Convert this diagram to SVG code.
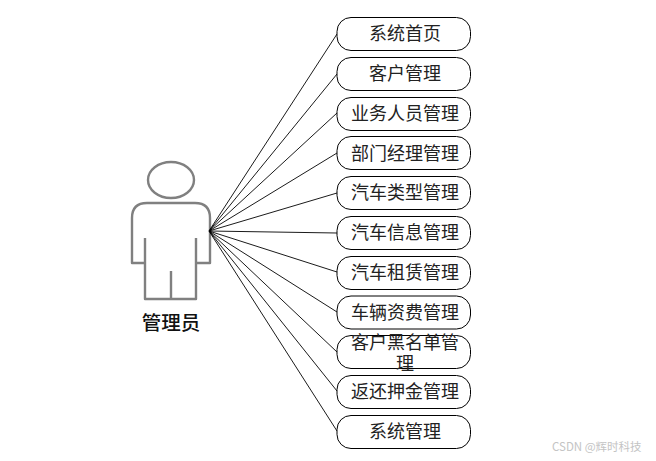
<svg xmlns="http://www.w3.org/2000/svg" width="656" height="461" viewBox="0 0 656 461">
<style>
.n{fill:#fff;stroke:#000;stroke-width:1}
.t{font-family:"Noto Sans CJK SC",sans-serif;font-size:18px;fill:#222;text-anchor:middle}
.c{stroke:#000;stroke-width:.9;fill:none}
.p{fill:#fff;stroke:#808080;stroke-width:2.400;stroke-linejoin:round}
</style>
<rect width="656" height="461" fill="#fff"/>
<g id="actor">
<ellipse class="p" cx="171" cy="180" rx="23" ry="18"/>
<path class="p" d="M145 238V263H132V218Q132 203 147 203H195Q210 203 210 218V263H196V238M196 263V299H145V263M171 299V271"/>
<text x="171" y="330" style="font-family:'Noto Sans CJK SC',sans-serif;font-size:19.500px;font-weight:500;fill:#111;text-anchor:middle">管理员</text>
</g>
<g id="connectors">
<path class="c" d="M209 231L337 34M209 231L337 74M209 231L337 113M209 231L337 153M209 231L337 193M209 231L337 233M209 231L337 272M209 231L337 312M209 231L337 352M209 231L337 391M209 231L337 431"/>
</g>
<g id="n1"><rect class="n" x="337" y="17.500" width="133.500" height="33" rx="14"/><text class="t" x="405" y="40">系统首页</text></g>
<g id="n2"><rect class="n" x="337" y="57.500" width="133.500" height="33" rx="14"/><text class="t" x="405" y="80">客户管理</text></g>
<g id="n3"><rect class="n" x="337" y="97.500" width="133.500" height="33" rx="14"/><text class="t" x="405" y="120">业务人员管理</text></g>
<g id="n4"><rect class="n" x="337" y="136.500" width="133.500" height="33" rx="14"/><text class="t" x="405" y="160">部门经理管理</text></g>
<g id="n5"><rect class="n" x="337" y="176.500" width="133.500" height="33" rx="14"/><text class="t" x="405" y="199">汽车类型管理</text></g>
<g id="n6"><rect class="n" x="337" y="216.500" width="133.500" height="33" rx="14"/><text class="t" x="405" y="239">汽车信息管理</text></g>
<g id="n7"><rect class="n" x="337" y="256.500" width="133.500" height="33" rx="14"/><text class="t" x="405" y="279">汽车租赁管理</text></g>
<g id="n8"><rect class="n" x="337" y="296" width="133.500" height="33" rx="14"/><text class="t" x="405" y="319">车辆资费管理</text></g>
<g id="n9"><rect class="n" x="337" y="335.500" width="133.500" height="33" rx="14"/><text class="t" x="405" y="349">客户黑名单管</text><text class="t" x="405" y="370">理</text></g>
<g id="n10"><rect class="n" x="337" y="375.500" width="133.500" height="33" rx="14"/><text class="t" x="405" y="398">返还押金管理</text></g>
<g id="n11"><rect class="n" x="337" y="415.500" width="133.500" height="33" rx="14"/><text class="t" x="405" y="438">系统管理</text></g>
<text x="552" y="451" style="font-family:'Noto Sans CJK SC',sans-serif;font-size:11.500px;fill:#c4c4c4">CSDN @辉时科技</text>
</svg>
